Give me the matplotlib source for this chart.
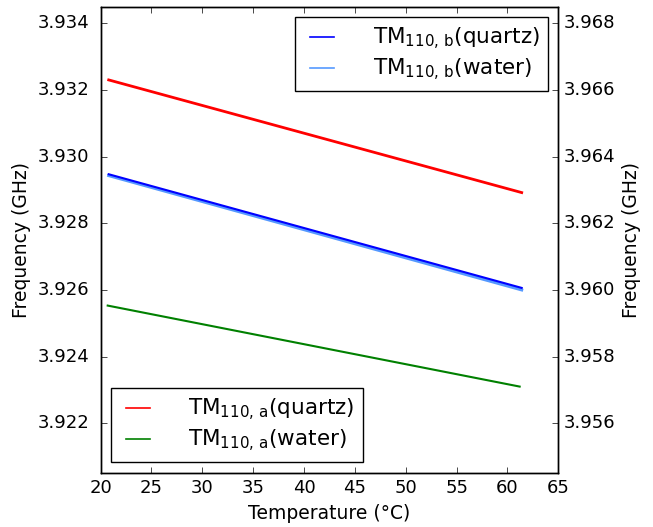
import matplotlib
matplotlib.use("Agg")
import matplotlib.pyplot as plt

plt.style.use('classic')
plt.rcParams['mathtext.fontset'] = 'dejavusans'
plt.rcParams['mathtext.default'] = 'regular'

# temperatures (°C) and frequencies (GHz)
temp_quartz_a = [20.8, 61.4]
freq_quartz_a = [3.93230, 3.92892]
temp_water_a = [20.7, 61.2]
freq_water_a = [3.92553, 3.92310]

temp_quartz_b = [20.8, 61.4]
freq_quartz_b = [3.96347, 3.96006]
temp_water_b = [20.8, 61.4]
freq_water_b = [3.96343, 3.96000]

fig = plt.figure(figsize=(6.53, 5.27), dpi=100, facecolor='white')
ax = fig.add_axes([0.154, 0.102, 0.701, 0.8855])
ax2 = ax.twinx()

l1, = ax.plot(temp_quartz_a, freq_quartz_a, color='red', lw=2, label=r'TM$_{110,\,\mathrm{a}}$(quartz)')
l2, = ax.plot(temp_water_a, freq_water_a, color='green', lw=1.5, label=r'TM$_{110,\,\mathrm{a}}$(water)')
l4, = ax2.plot(temp_water_b, freq_water_b, color='#5599ff', lw=2.2, label=r'TM$_{110,\,\mathrm{b}}$(water)')
l3, = ax2.plot(temp_quartz_b, freq_quartz_b, color='blue', lw=1.5, label=r'TM$_{110,\,\mathrm{b}}$(quartz)')

ax.set_xlim(20, 65)
ax.set_ylim(3.9205, 3.9345)
ax2.set_ylim(3.9545, 3.9685)
ax.set_yticks([3.922, 3.924, 3.926, 3.928, 3.930, 3.932, 3.934])
ax2.set_yticks([3.956, 3.958, 3.960, 3.962, 3.964, 3.966, 3.968])
ax.yaxis.set_major_formatter(matplotlib.ticker.FormatStrFormatter('%.3f'))
ax2.yaxis.set_major_formatter(matplotlib.ticker.FormatStrFormatter('%.3f'))

ax.set_xlabel('Temperature (°C)', fontsize=13.5)
ax.set_ylabel('Frequency (GHz)', fontsize=13.5)
ax2.set_ylabel('Frequency (GHz)', fontsize=13.5)
ax.tick_params(labelsize=13)
ax.tick_params(axis='y', pad=8)
ax2.tick_params(labelsize=13)

leg1 = ax.legend(handles=[l1, l2], loc='lower left', fontsize=15.5, handlelength=1.7,
                 handletextpad=1.5, labelspacing=0.25, borderaxespad=0.5, borderpad=0.38)
leg2 = ax2.legend(handles=[l3, l4], loc='upper right', fontsize=15.5, handlelength=1.7,
                  handletextpad=1.5, labelspacing=0.25, borderaxespad=0.5, borderpad=0.38)
for leg in (leg1, leg2):
    for ln in leg.get_lines():
        ln.set_linewidth(1.2)

fig.savefig('out.png', dpi=100, facecolor='white')
